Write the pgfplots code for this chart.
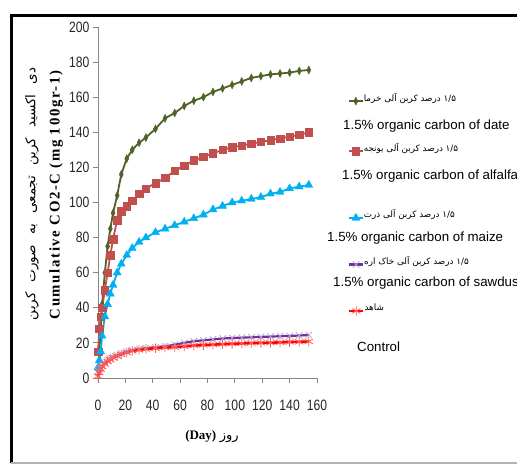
\documentclass[border=0pt]{standalone}
\usepackage{pgfplots}
\pgfplotsset{compat=1.18}
\usepackage{pgfplotstable}
\usepackage{fontspec}
\setmainfont{Liberation Sans}
\newfontfamily\narrowfont[FakeStretch=0.81]{Liberation Sans}
\newfontfamily\labelserif{Liberation Serif}
\newfontfamily\spacedserif[LetterSpace=11]{Liberation Serif}
\newfontfamily\farsi[Script=Arabic]{DejaVu Sans}
\TeXXeTstate=1

\definecolor{dategreen}{HTML}{4F6228}
\definecolor{alfred}{HTML}{C0504D}
\definecolor{maizeblue}{HTML}{00B0F0}
\definecolor{sawpurple}{HTML}{7030A0}
\definecolor{sawmark}{HTML}{B3A2C7}
\definecolor{ctrlred}{HTML}{FF0000}
\definecolor{ctrlmark}{HTML}{FF5A5A}
\definecolor{axisgray}{HTML}{868686}

% cumulative CO2-C (mg per 100 g soil) over the incubation period
\pgfplotstableread{
day date  alfalfa maize sawdust control
0   5     15      6     4       1
1   15    28      10    5       3
2   28    35      15    6       5
3   42    40      24    7       6.5
5   60    50      35    8.5     8
7   75    60      42    10      9.5
9   85    70      48    11      10.5
11  94    79      53    12      11.5
14  104   90      60    13      12.5
17  116   95      65    14      13.5
21  125   98      70    15      14.5
25  130   101     74    15.8    15.5
30  134   105     77.5  16.5    16
35  137   108     80    17      16.5
42  142   111     83    17.5    17
49  148   114     85    18      17.3
56  151   118     87    19      17.6
63  155   121     89    20      18
70  158   124     91    21      18.5
77  160   126     93    21.5    18.8
84  163   128     96    22      19
91  165   130     98    22.5    19.3
98  167   131.5   100   22.8    19.5
105 169   132.5   101   23      19.7
112 171   133.5   102   23.2    19.9
119 172   134.5   103   23.4    20
126 173   135.5   105   23.6    20.1
133 173.5 136.5   106   23.8    20.3
140 174   137.5   108   24      20.5
147 175   138.5   109   24.2    20.6
154 175.5 140     110   24.5    20.8
}\respdata

\pgfplotsset{
  datestyle/.style={dategreen, line width=1.8pt, mark=diamond*, mark size=4pt,
    mark options={xscale=0.68, fill=dategreen, draw=dategreen, line width=0.4pt}},
  alfstyle/.style={alfred, line width=1.8pt, mark=square*, mark size=3.7pt,
    mark options={fill=alfred, draw=alfred, line width=0.4pt}},
  maizestyle/.style={maizeblue, line width=1.8pt, mark=triangle*, mark size=4.6pt,
    mark options={fill=maizeblue, draw=maizeblue, line width=0.4pt}},
  sawstyle/.style={sawpurple, line width=2.2pt, mark=x, mark size=4.6pt,
    mark options={draw=sawmark, line width=0.7pt}},
  ctrlstyle/.style={ctrlred, line width=2.6pt, mark=asterisk, mark size=4.8pt,
    mark options={draw=ctrlmark, line width=0.8pt}},
  % a one-entry legend placed at a given point
  keyaxis/.style={hide axis, scale only axis, width=10pt, height=10pt,
    xmin=0, xmax=1, ymin=0, ymax=1, at={#1}, anchor=south west,
    legend style={draw=none, fill=none, at={(axis description cs:0,0)},
      anchor=west, inner sep=0pt, outer sep=0pt,
      nodes={inner sep=0pt, anchor=base west},
      font=\farsi\fontsize{8.8}{8.8}\selectfont},
    legend image code/.code={\draw[mark repeat=2,mark phase=2,##1]
      plot coordinates {(0pt,0pt) (7pt,0pt) (14pt,0pt)};}},
}

\begin{document}
\begin{tikzpicture}[x=1pt,y=1pt]
\useasboundingbox (0,0) rectangle (517,464);
% outer frame
\draw[line width=3pt] (11.3,1) -- (11.3,448.5) -- (517,448.5);
\draw[gray!60, line width=1.2pt] (11.3,1) -- (517,1);

\begin{axis}[
  at={(98pt,86pt)}, anchor=south west,
  scale only axis, width=219pt, height=351pt,
  xmin=0, xmax=160, ymin=0, ymax=200,
  axis lines*=left,
  axis line style={axisgray, line width=0.9pt},
  xtick={0,20,...,160}, ytick={0,20,...,200},
  tick align=outside, major tick length=5pt,
  tick style={axisgray, line width=0.9pt},
  /pgf/number format/assume math mode=true,
  ticklabel style={font=\narrowfont\fontsize{15}{15}\selectfont, text=black!85},
  xticklabel style={yshift=-13pt},
  clip=false,
]
\addplot[datestyle] table[x=day, y=date] {\respdata};
\addplot[alfstyle] table[x=day, y=alfalfa] {\respdata};
\addplot[maizestyle] table[x=day, y=maize] {\respdata};
\addplot[sawstyle] table[x=day, y=sawdust] {\respdata};
\addplot[ctrlstyle] table[x=day, y=control] {\respdata};
\end{axis}

% legend keys with their Persian names
\begin{axis}[keyaxis={(348pt,365pt)}]
\addlegendimage{datestyle}
\addlegendentry{\beginR\beginL۱/۵\endL{} درصد کربن آلی خرما\endR}
\end{axis}
\begin{axis}[keyaxis={(348pt,315pt)}]
\addlegendimage{alfstyle}
\addlegendentry{\beginR\beginL۱/۵\endL{} درصد کربن آلی یونجه\endR}
\end{axis}
\begin{axis}[keyaxis={(348pt,249pt)}]
\addlegendimage{maizestyle}
\addlegendentry{\beginR\beginL۱/۵\endL{} درصد کربن آلی ذرت\endR}
\end{axis}
\begin{axis}[keyaxis={(348pt,202pt)}]
\addlegendimage{sawstyle}
\addlegendentry{\beginR\beginL۱/۵\endL{} درصد کربن آلی خاک اره\endR}
\end{axis}
\begin{axis}[keyaxis={(348pt,154pt)}]
\addlegendimage{ctrlstyle}
\addlegendentry{\beginR شاهد\endR}
\end{axis}

% English lines of the legend
\begin{scope}[every node/.style={font=\fontsize{13.3}{13.3}\selectfont, anchor=base west, inner sep=0pt}]
\node at (343,334.5) {1.5\% organic carbon of date};
\node at (342,284.5) {1.5\% organic carbon of alfalfa};
\node at (327,222.5) {1.5\% organic carbon of maize};
\node at (333,177.5) {1.5\% organic carbon of sawdust};
\node at (357,112.5) {Control};
\end{scope}

% axis titles
\node[rotate=90, font=\farsi\fontsize{13.5}{13.5}\selectfont] at (32,270)
  {\beginR دی\hspace{10pt}اکسید\hspace{10pt}کربن\hspace{10pt}تجمعی\hspace{10pt}به\hspace{10pt}صورت\hspace{10pt}کربن\endR};
\node[rotate=90, font=\spacedserif\bfseries\fontsize{14.8}{14.8}\selectfont] at (56,269)
  {Cumulative CO2-C (mg 100gr-1)};
\node[font=\fontsize{13}{13}\selectfont] at (212,27)
  {{\labelserif\bfseries (Day)} {\farsi\beginR روز\endR}};
\end{tikzpicture}
\end{document}
